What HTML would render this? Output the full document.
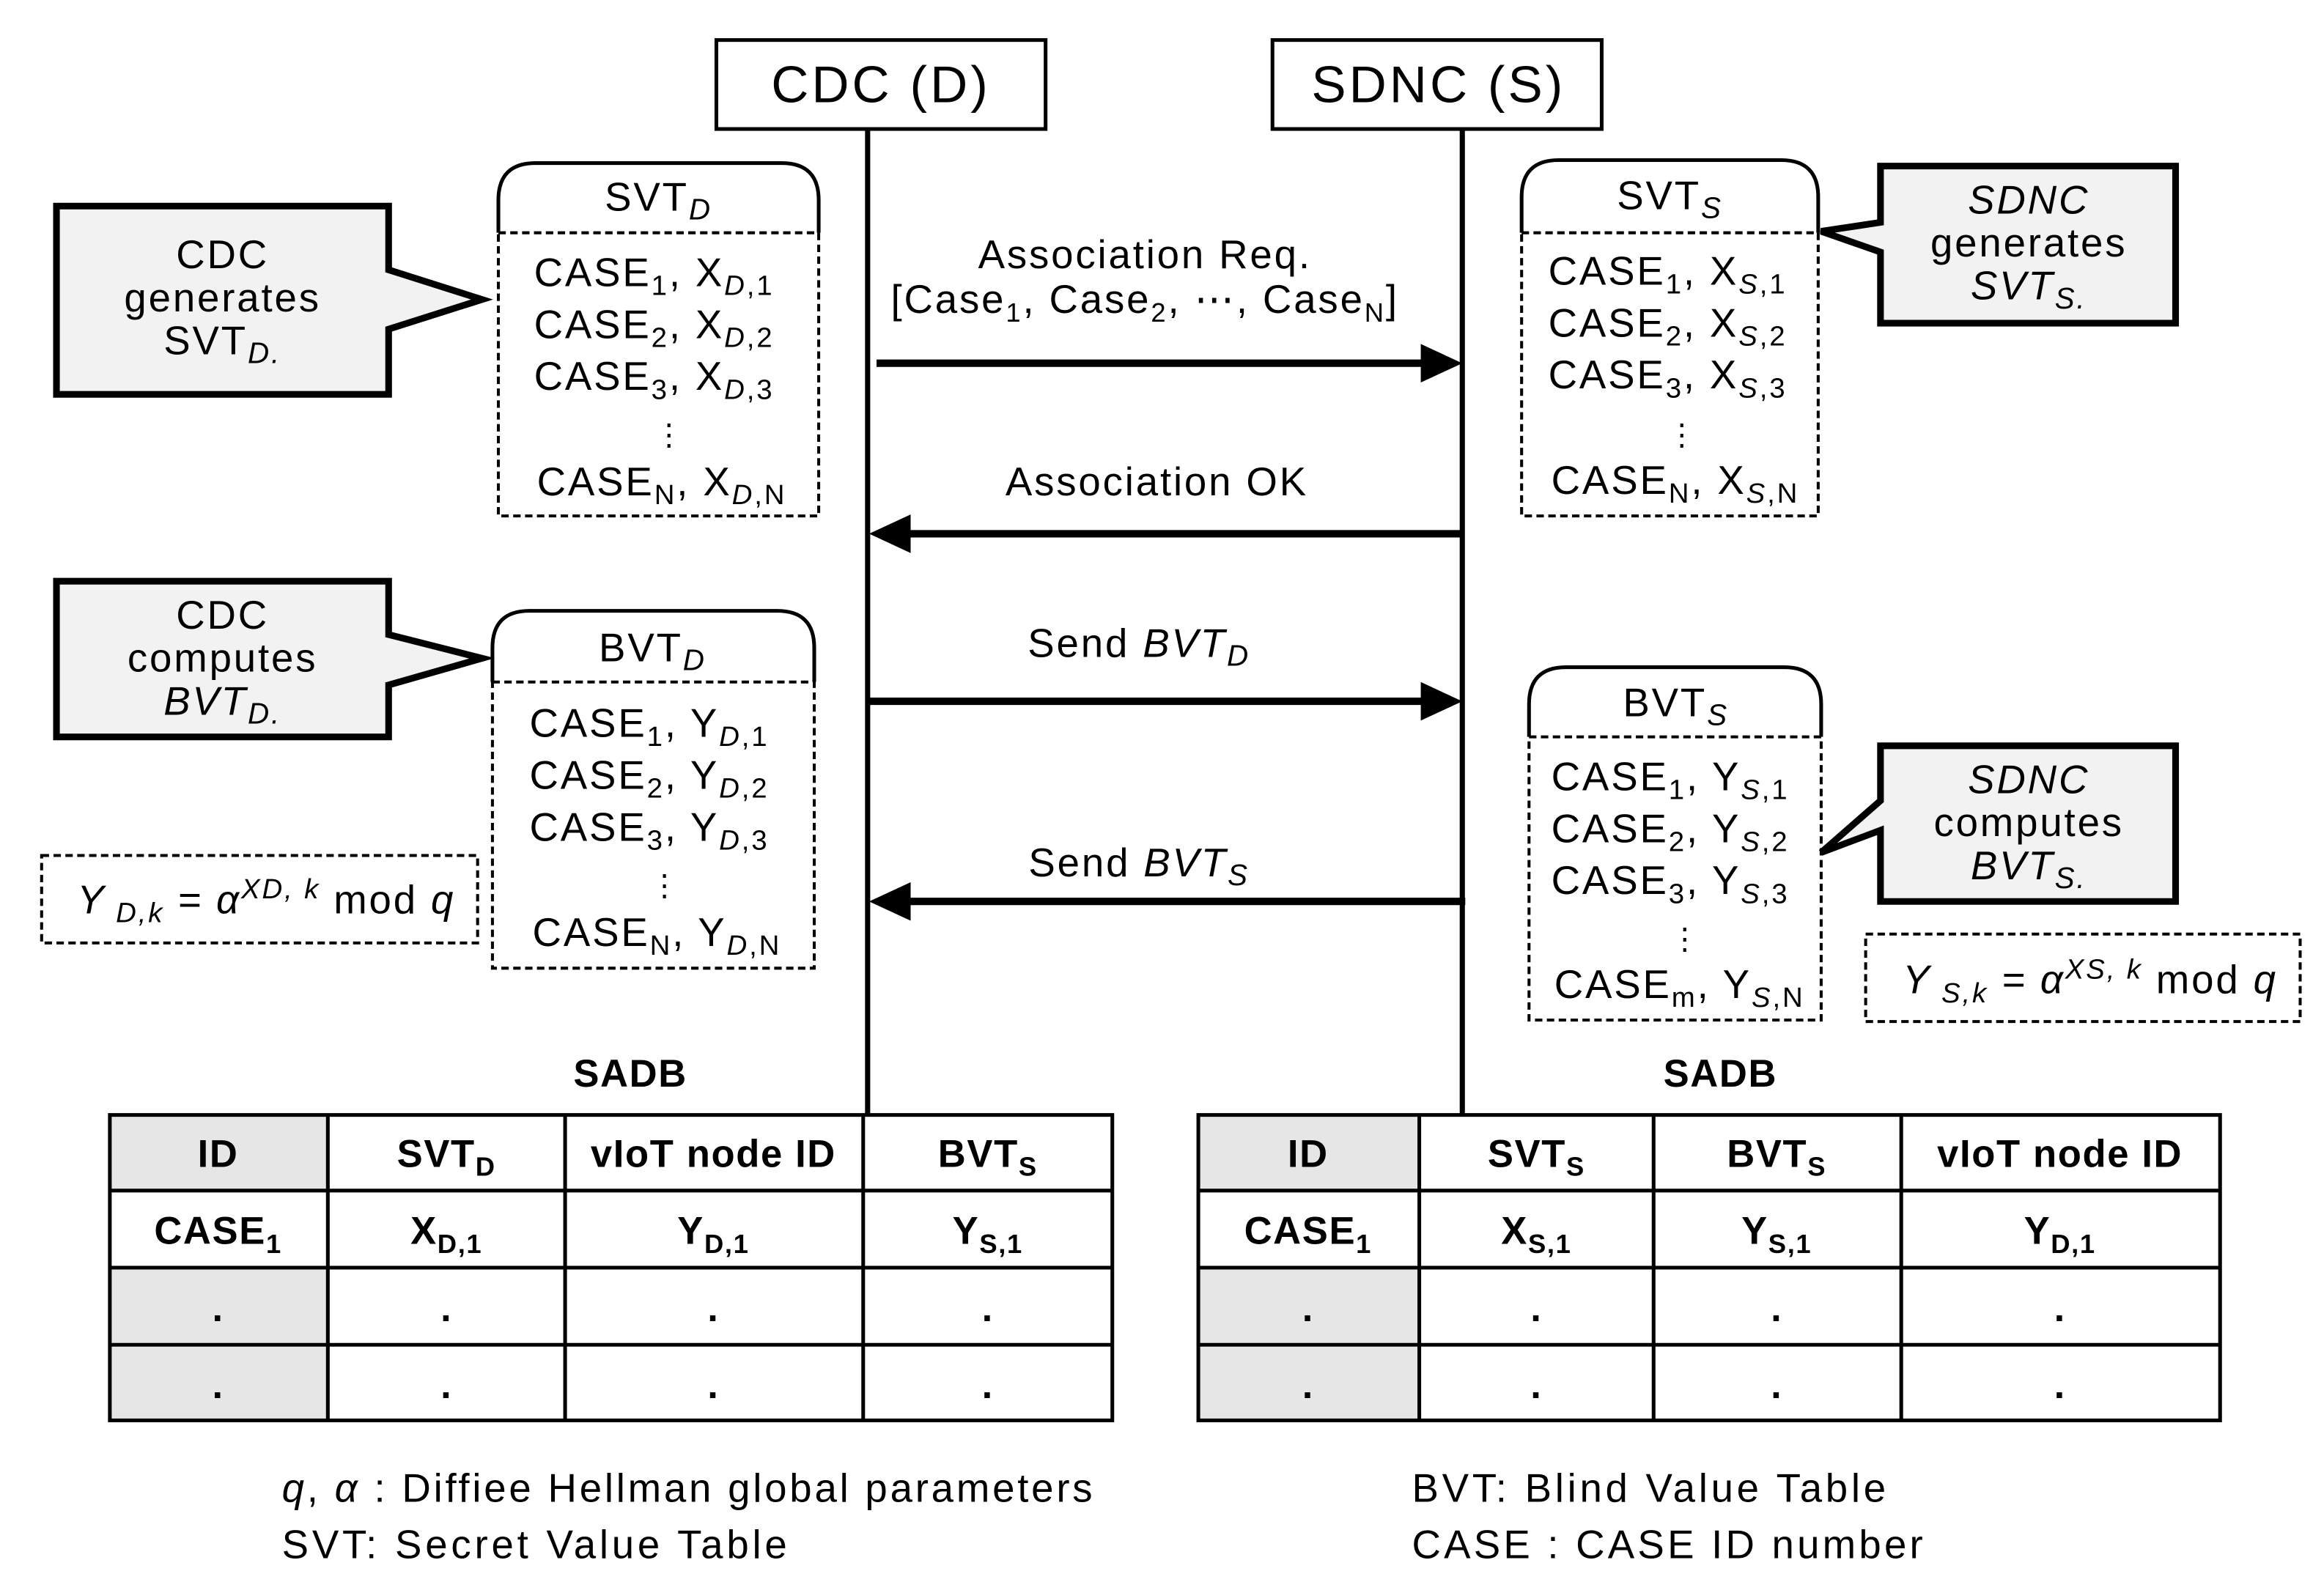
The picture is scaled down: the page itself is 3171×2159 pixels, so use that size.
<!DOCTYPE html>
<html><head><meta charset="utf-8"><style>
html,body{margin:0;padding:0;background:#fff}
svg{display:block}
text{font-family:"Liberation Sans",sans-serif;fill:#000;letter-spacing:1.4px}
.b text{letter-spacing:0.8px}
</style></head><body>
<svg width="3171" height="2159" viewBox="0 0 1567 1067" xmlns="http://www.w3.org/2000/svg">
<rect width="1567" height="1067" fill="#fff"/>
<rect x="483" y="27" width="222" height="60" fill="#fff" stroke="#000" stroke-width="2.5"/>
<text x="594" y="69" font-size="35" text-anchor="middle" style="letter-spacing:2px">CDC (D)</text>
<rect x="858" y="27" width="222" height="60" fill="#fff" stroke="#000" stroke-width="2.5"/>
<text x="970" y="69" font-size="35" text-anchor="middle" style="letter-spacing:2px">SDNC (S)</text>
<line x1="585" y1="87" x2="585" y2="752" stroke="#000" stroke-width="3.5"/>
<line x1="986" y1="87" x2="986" y2="752" stroke="#000" stroke-width="3.5"/>

<g fill="#f2f2f2" stroke="#000" stroke-width="4.5">
<path d="M38,139 H262 V182 L325,202 L262,222 V266 H38 Z"/>
<path d="M38,392 H262 V428 L325,444 L262,462 V497 H38 Z"/>
<path d="M1268,112 H1467 V218 H1268 V170 L1228,156 L1268,150 Z"/>
<path d="M1268,503 H1467 V608 H1268 V560 L1228,575 L1268,540 Z"/>
</g>
<g font-size="27" text-anchor="middle">
<text x="150" y="181">CDC</text><text x="150" y="210">generates</text>
<text x="150" y="239">SVT<tspan font-size="20" font-style="italic" dy="6">D.</tspan></text>
<text x="150" y="424">CDC</text><text x="150" y="453">computes</text>
<text x="150" y="482" font-style="italic">BVT<tspan font-size="20" dy="6">D.</tspan></text>
<text x="1368" y="144" font-style="italic">SDNC</text><text x="1368" y="173">generates</text>
<text x="1368" y="202" font-style="italic">SVT<tspan font-size="20" dy="6">S.</tspan></text>
<text x="1368" y="535" font-style="italic">SDNC</text><text x="1368" y="564">computes</text>
<text x="1368" y="593" font-style="italic">BVT<tspan font-size="20" dy="6">S.</tspan></text>
</g>

<g fill="none" stroke="#000">
<path d="M336,157 V135 Q336,110 361,110 H527 Q552,110 552,135 V157" stroke-width="2.5"/>
<rect x="336" y="157" width="216" height="191" stroke-width="2" stroke-dasharray="5,3"/>
<path d="M332,460 V437 Q332,412 357,412 H524 Q549,412 549,437 V460" stroke-width="2.5"/>
<rect x="332" y="460" width="217" height="193" stroke-width="2" stroke-dasharray="5,3"/>
<path d="M1026,157 V133 Q1026,108 1051,108 H1201 Q1226,108 1226,133 V157" stroke-width="2.5"/>
<rect x="1026" y="157" width="200" height="191" stroke-width="2" stroke-dasharray="5,3"/>
<path d="M1031,497 V475 Q1031,450 1056,450 H1203 Q1228,450 1228,475 V497" stroke-width="2.5"/>
<rect x="1031" y="497" width="197" height="191" stroke-width="2" stroke-dasharray="5,3"/>
<rect x="28" y="577" width="294" height="59" stroke-width="2" stroke-dasharray="5,3"/>
<rect x="1258" y="630" width="293" height="59" stroke-width="2" stroke-dasharray="5,3"/>
</g>
<g font-size="27">
<text x="444" y="142" text-anchor="middle">SVT<tspan font-style="italic" font-size="20" dy="6">D</tspan></text>
<text x="360" y="193">CASE<tspan font-size="19" dy="6">1</tspan><tspan dy="-6">, X</tspan><tspan font-size="19" dy="6"><tspan font-style="italic">D</tspan>,1</tspan></text>
<text x="360" y="228">CASE<tspan font-size="19" dy="6">2</tspan><tspan dy="-6">, X</tspan><tspan font-size="19" dy="6"><tspan font-style="italic">D</tspan>,2</tspan></text>
<text x="360" y="263">CASE<tspan font-size="19" dy="6">3</tspan><tspan dy="-6">, X</tspan><tspan font-size="19" dy="6"><tspan font-style="italic">D</tspan>,3</tspan></text>
<text x="441" y="300" font-size="20">⋮</text>
<text x="362" y="334">CASE<tspan font-size="19" dy="6">N</tspan><tspan dy="-6">, X</tspan><tspan font-size="19" dy="6"><tspan font-style="italic">D</tspan>,N</tspan></text>

<text x="440" y="446" text-anchor="middle">BVT<tspan font-style="italic" font-size="20" dy="6">D</tspan></text>
<text x="357" y="497">CASE<tspan font-size="19" dy="6">1</tspan><tspan dy="-6">, Y</tspan><tspan font-size="19" dy="6"><tspan font-style="italic">D</tspan>,1</tspan></text>
<text x="357" y="532">CASE<tspan font-size="19" dy="6">2</tspan><tspan dy="-6">, Y</tspan><tspan font-size="19" dy="6"><tspan font-style="italic">D</tspan>,2</tspan></text>
<text x="357" y="567">CASE<tspan font-size="19" dy="6">3</tspan><tspan dy="-6">, Y</tspan><tspan font-size="19" dy="6"><tspan font-style="italic">D</tspan>,3</tspan></text>
<text x="438" y="604" font-size="20">⋮</text>
<text x="359" y="638">CASE<tspan font-size="19" dy="6">N</tspan><tspan dy="-6">, Y</tspan><tspan font-size="19" dy="6"><tspan font-style="italic">D</tspan>,N</tspan></text>

<text x="1126" y="141" text-anchor="middle">SVT<tspan font-style="italic" font-size="20" dy="6">S</tspan></text>
<text x="1044" y="192">CASE<tspan font-size="19" dy="6">1</tspan><tspan dy="-6">, X</tspan><tspan font-size="19" dy="6"><tspan font-style="italic">S</tspan>,1</tspan></text>
<text x="1044" y="227">CASE<tspan font-size="19" dy="6">2</tspan><tspan dy="-6">, X</tspan><tspan font-size="19" dy="6"><tspan font-style="italic">S</tspan>,2</tspan></text>
<text x="1044" y="262">CASE<tspan font-size="19" dy="6">3</tspan><tspan dy="-6">, X</tspan><tspan font-size="19" dy="6"><tspan font-style="italic">S</tspan>,3</tspan></text>
<text x="1124" y="300" font-size="20">⋮</text>
<text x="1046" y="333">CASE<tspan font-size="19" dy="6">N</tspan><tspan dy="-6">, X</tspan><tspan font-size="19" dy="6"><tspan font-style="italic">S</tspan>,N</tspan></text>

<text x="1130" y="483" text-anchor="middle">BVT<tspan font-style="italic" font-size="20" dy="6">S</tspan></text>
<text x="1046" y="533">CASE<tspan font-size="19" dy="6">1</tspan><tspan dy="-6">, Y</tspan><tspan font-size="19" dy="6"><tspan font-style="italic">S</tspan>,1</tspan></text>
<text x="1046" y="568">CASE<tspan font-size="19" dy="6">2</tspan><tspan dy="-6">, Y</tspan><tspan font-size="19" dy="6"><tspan font-style="italic">S</tspan>,2</tspan></text>
<text x="1046" y="603">CASE<tspan font-size="19" dy="6">3</tspan><tspan dy="-6">, Y</tspan><tspan font-size="19" dy="6"><tspan font-style="italic">S</tspan>,3</tspan></text>
<text x="1126" y="640" font-size="20">⋮</text>
<text x="1048" y="673">CASE<tspan font-size="19" dy="6">m</tspan><tspan dy="-6">, Y</tspan><tspan font-size="19" dy="6"><tspan font-style="italic">S</tspan>,N</tspan></text>

<text x="52" y="616"><tspan font-style="italic">Y</tspan><tspan font-style="italic" font-size="19" dy="6"> D,k</tspan><tspan font-style="italic" dy="-6"> = α</tspan><tspan font-style="italic" font-size="19" dy="-10">XD, k</tspan><tspan dy="10"> mod </tspan><tspan font-style="italic">q</tspan></text>
<text x="1283" y="670"><tspan font-style="italic">Y</tspan><tspan font-style="italic" font-size="19" dy="6"> S,k</tspan><tspan font-style="italic" dy="-6"> = α</tspan><tspan font-style="italic" font-size="19" dy="-10">XS, k</tspan><tspan dy="10"> mod </tspan><tspan font-style="italic">q</tspan></text>
</g>

<g stroke="#000" stroke-width="5">
<line x1="591" y1="245" x2="962" y2="245"/>
<line x1="612" y1="360" x2="985" y2="360"/>
<line x1="585" y1="473" x2="962" y2="473"/>
<line x1="612" y1="608" x2="988" y2="608"/>
</g>
<g fill="#000">
<path d="M986,245 L958,232 L958,258 Z"/>
<path d="M586,360 L614,347 L614,373 Z"/>
<path d="M986,473 L958,460 L958,486 Z"/>
<path d="M586,608 L614,595 L614,621 Z"/>
</g>
<g font-size="27" text-anchor="middle">
<text x="772" y="181">Association Req.</text>
<text x="772" y="211">[Case<tspan font-size="18" dy="6">1</tspan><tspan dy="-6">, Case</tspan><tspan font-size="18" dy="6">2</tspan><tspan dy="-6">, ⋯, Case</tspan><tspan font-size="18" dy="6">N</tspan><tspan dy="-6">]</tspan></text>
<text x="780" y="334">Association OK</text>
<text x="768" y="443">Send  <tspan font-style="italic">BVT</tspan><tspan font-style="italic" font-size="20" dy="6">D</tspan></text>
<text x="768" y="591">Send  <tspan font-style="italic">BVT</tspan><tspan font-style="italic" font-size="20" dy="6">S</tspan></text>
</g>

<g class="b" font-size="26" font-weight="bold" text-anchor="middle">
<text x="425" y="733">SADB</text>
<text x="1160" y="733">SADB</text>
</g>
<g fill="#e6e6e6">
<rect x="74" y="752" width="147" height="51"/>
<rect x="74" y="855" width="147" height="103"/>
<rect x="808" y="752" width="149" height="51"/>
<rect x="808" y="855" width="149" height="103"/>
</g>
<g stroke="#000" stroke-width="2.5" fill="none">
<rect x="74" y="752" width="676" height="206"/>
<line x1="74" y1="803" x2="750" y2="803"/><line x1="74" y1="855" x2="750" y2="855"/><line x1="74" y1="907" x2="750" y2="907"/>
<line x1="221" y1="752" x2="221" y2="958"/><line x1="381" y1="752" x2="381" y2="958"/><line x1="582" y1="752" x2="582" y2="958"/>
<rect x="808" y="752" width="689" height="206"/>
<line x1="808" y1="803" x2="1497" y2="803"/><line x1="808" y1="855" x2="1497" y2="855"/><line x1="808" y1="907" x2="1497" y2="907"/>
<line x1="957" y1="752" x2="957" y2="958"/><line x1="1115" y1="752" x2="1115" y2="958"/><line x1="1282" y1="752" x2="1282" y2="958"/>
</g>
<g class="b" font-size="26" font-weight="bold" text-anchor="middle">
<text x="147" y="787">ID</text>
<text x="301" y="787">SVT<tspan font-size="18" dy="6">D</tspan></text>
<text x="481" y="787">vIoT node ID</text>
<text x="666" y="787">BVT<tspan font-size="18" dy="6">S</tspan></text>
<text x="147" y="839">CASE<tspan font-size="18" dy="6">1</tspan></text>
<text x="301" y="839">X<tspan font-size="18" dy="6">D,1</tspan></text>
<text x="481" y="839">Y<tspan font-size="18" dy="6">D,1</tspan></text>
<text x="666" y="839">Y<tspan font-size="18" dy="6">S,1</tspan></text>
<text x="147" y="891">.</text><text x="301" y="891">.</text><text x="481" y="891">.</text><text x="666" y="891">.</text>
<text x="147" y="943">.</text><text x="301" y="943">.</text><text x="481" y="943">.</text><text x="666" y="943">.</text>

<text x="882" y="787">ID</text>
<text x="1036" y="787">SVT<tspan font-size="18" dy="6">S</tspan></text>
<text x="1198" y="787">BVT<tspan font-size="18" dy="6">S</tspan></text>
<text x="1389" y="787">vIoT node ID</text>
<text x="882" y="839">CASE<tspan font-size="18" dy="6">1</tspan></text>
<text x="1036" y="839">X<tspan font-size="18" dy="6">S,1</tspan></text>
<text x="1198" y="839">Y<tspan font-size="18" dy="6">S,1</tspan></text>
<text x="1389" y="839">Y<tspan font-size="18" dy="6">D,1</tspan></text>
<text x="882" y="891">.</text><text x="1036" y="891">.</text><text x="1198" y="891">.</text><text x="1389" y="891">.</text>
<text x="882" y="943">.</text><text x="1036" y="943">.</text><text x="1198" y="943">.</text><text x="1389" y="943">.</text>
</g>

<g font-size="27">
<text x="190" y="1013" textLength="548" lengthAdjust="spacing"><tspan font-style="italic">q</tspan>, <tspan font-style="italic">α</tspan> : Diffiee Hellman global parameters</text>
<text x="190" y="1051" textLength="342" lengthAdjust="spacing">SVT: Secret Value Table</text>
<text x="952" y="1013" textLength="321" lengthAdjust="spacing">BVT: Blind Value Table</text>
<text x="952" y="1051" textLength="346" lengthAdjust="spacing">CASE : CASE ID number</text>
</g>
</svg>
</body></html>
